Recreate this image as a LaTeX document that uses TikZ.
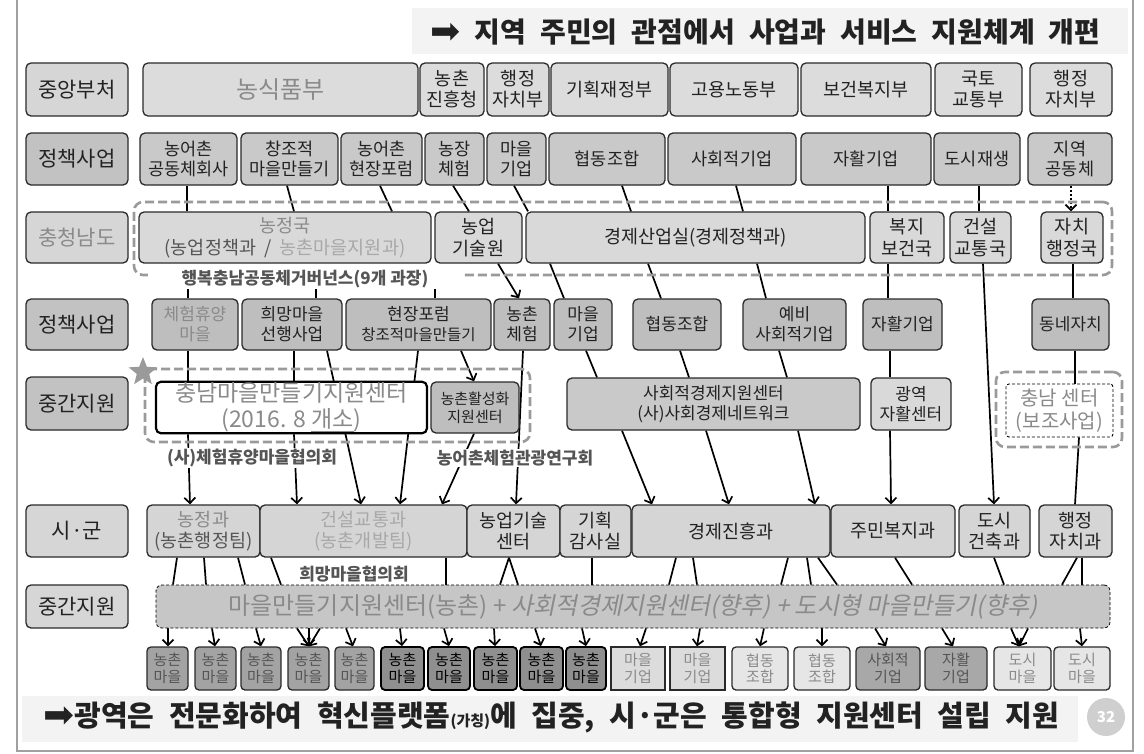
\documentclass[tikz,border=0pt]{standalone}
\usepackage{fontspec}
\setmainfont{Noto Sans CJK KR}
\newfontfamily\itk{Noto Sans CJK KR}[FakeSlant=0.2]
\newfontfamily\wide{Noto Sans CJK KR}[WordSpace=1.9]
\newfontfamily\widef{Noto Sans CJK KR}[WordSpace=2.2]
\newfontfamily\sym{DejaVu Sans}
\usetikzlibrary{arrows.meta,shapes.geometric}
\pgfdeclarelayer{bg}
\pgfsetlayers{bg,main}
\definecolor{bdr}{HTML}{2A2A2A}
\definecolor{tx}{HTML}{222222}
\definecolor{gtx}{HTML}{8A8A8A}
\definecolor{ltx}{HTML}{A8A8A8}
\definecolor{ctx}{HTML}{555555}
\definecolor{cA}{HTML}{D6D6D6}
\definecolor{cB}{HTML}{C2C2C2}
\definecolor{cR1}{HTML}{DCDCDC}
\definecolor{cR2}{HTML}{C9C9C9}
\definecolor{cR3}{HTML}{D9D9D9}
\definecolor{cR4}{HTML}{BEBEBE}
\definecolor{cR6}{HTML}{D5D5D5}
\definecolor{cR7}{HTML}{C6C6C6}
\definecolor{grpc}{HTML}{9A9A9A}
\definecolor{frm}{HTML}{A0A0A0}
\definecolor{bgl}{HTML}{F3F3F3}
\definecolor{pgc}{HTML}{CFCFCF}
\definecolor{HTMLa3}{HTML}{A3A3A3}
\definecolor{HTMLb}{HTML}{8F8F8F}
\definecolor{HTMLe}{HTML}{E6E6E6}
\definecolor{HTMLa8}{HTML}{A8A8A8}
\newcommand\fsz[2]{\fontsize{#1}{#2}\selectfont}
\newcommand\bx[7]{\node[#2,minimum width={(#5-#3)*1pt},minimum height={(#6-#4)*1pt}] (#1) at ({(#3+#5)/2},{(#4+#6)/2}) {#7};}
\tikzset{
 bxs/.style={draw=bdr,line width=1.3pt,rounded corners=5pt,inner sep=1pt,align=center,text=tx},
 lab1/.style={bxs,fill=cA,font=\fsz{21}{24}},
 lab2/.style={bxs,fill=cB,font=\fsz{21}{24}},
 r1/.style={bxs,fill=cR1,font=\fsz{18.5}{21}},
 r2/.style={bxs,fill=cR2,font=\fsz{17.5}{20}},
 r3/.style={bxs,fill=cR3,font=\fsz{18.5}{22}},
 r4/.style={bxs,fill=cR4,font=\fsz{17}{20}},
 r6/.style={bxs,fill=cR6,font=\fsz{18.5}{21}},
 grp/.style={draw=grpc,line width=2.6pt,dash pattern=on 9pt off 4pt,rounded corners=9pt,inner sep=0pt},
 glab/.style={fill=white,inner sep=1pt,text=ctx,font=\bfseries\fsz{17}{19}},
 con/.style={draw=black,line width=1.7pt},
 arr/.style={con,-{Straight Barb[length=5.5pt,width=11pt]}},
 vbase/.style={bxs,rounded corners=4pt,font=\fsz{15}{16.5},inner sep=0pt},
 vA/.style={vbase,fill=HTMLa3,text=ctx},
 vB/.style={vbase,fill=HTMLb,text=black,line width=1.8pt,draw=black},
 vC/.style={vbase,fill=cR1,text=gtx,rounded corners=0pt},
 vD/.style={vbase,fill=HTMLe,text=gtx},
 vE/.style={vbase,fill=HTMLa8,text=ctx},
 vF/.style={vbase,fill=HTMLe,text=gtx},
}
\begin{document}
\begin{tikzpicture}[x=1pt,y=-1pt]
\useasboundingbox (0,0) rectangle (1144,753);
\begin{pgfonlayer}{bg}
\fill[white] (0,0) rectangle (1144,753);
\fill[bgl] (412,8) rectangle (1128,54);
\fill[bgl] (22,696) rectangle (1078,742);
\end{pgfonlayer}
\draw[draw=frm,line width=1.2pt] (17,0) -- (17,751) -- (1133,751) -- (1133,0);

% title and footer
\node[anchor=east,text=tx,font=\wide\bfseries\fsz{28}{30}] (title) at (1104,32) {{\sym\mdseries\fsz{36}{30}\raisebox{-1pt}{➡}} 지역 주민의 관점에서 사업과 서비스 지원체계 개편};
\node[anchor=west,text=tx,font=\widef\bfseries\fsz{29}{31}] (foot) at (40,717) {{\sym\mdseries\fsz{37}{31}\raisebox{-1pt}{➡}}광역은 전문화하여 혁신플랫폼{\fsz{15}{16}(가칭)}에 집중, 시·군은 통합형 지원센터 설립 지원};
\node[circle,fill=pgc,text=white,minimum size=38pt,inner sep=0pt,font=\bfseries\fsz{15}{16}] (pg) at (1106,717) {32};

% row labels
\bx{L1}{lab1}{26}{63}{128}{116}{중앙부처}
\bx{L2}{lab2}{26}{133}{128}{185}{정책사업}
\bx{L3}{lab1,text=gtx}{26}{212}{128}{263}{충청남도}
\bx{L4}{lab2}{26}{299}{128}{350}{정책사업}
\bx{L5}{lab2}{26}{377}{128}{430}{중간지원}
\bx{L6}{lab1}{26}{505}{128}{557}{시·군}
\bx{L7}{lab1}{26}{585}{128}{628}{중간지원}

% row 1
\bx{a1}{r1,text=gtx,font=\fsz{24}{26}}{143}{63}{418}{116}{농식품부}
\bx{a2}{r1}{420}{63}{484}{116}{농촌\\진흥청}
\bx{a3}{r1}{487}{63}{549}{116}{행정\\자치부}
\bx{a4}{r1}{551}{63}{668}{116}{기획재정부}
\bx{a5}{r1}{670}{63}{798}{116}{고용노동부}
\bx{a6}{r1}{801}{63}{931}{116}{보건복지부}
\bx{a7}{r1}{935}{63}{1022}{116}{국토\\교통부}
\bx{a8}{r1}{1030}{63}{1112}{116}{행정\\자치부}

% row 2
\bx{b1}{r2}{140}{133}{237}{185}{농어촌\\공동체회사}
\bx{b2}{r2}{241}{133}{338}{185}{창조적\\마을만들기}
\bx{b3}{r2}{341}{133}{422}{185}{농어촌\\현장포럼}
\bx{b4}{r2}{425}{133}{484}{185}{농장\\체험}
\bx{b5}{r2}{487}{133}{546}{185}{마을\\기업}
\bx{b6}{r2}{549}{133}{665}{185}{협동조합}
\bx{b7}{r2}{668}{133}{796}{185}{사회적기업}
\bx{b8}{r2}{801}{133}{931}{185}{자활기업}
\bx{b9}{r2}{934}{133}{1020}{185}{도시재생}
\bx{b10}{r2}{1028}{133}{1112}{185}{지역\\공동체}

% row 3 (충청남도)
\bx{g3}{grp}{134}{202}{1112}{275}{}
\bx{c1}{r3}{139}{212}{431}{263}{{\color{gtx}농정국}\\{\color{ctx}(농업정책과~~/}~~{\color{ltx}농촌마을지원과)}}
\bx{c2}{r3}{435}{212}{522}{263}{농업\\기술원}
\bx{c3}{r3}{526}{212}{865}{263}{경제산업실(경제정책과)}
\bx{c4}{r3}{870}{212}{944}{263}{복지\\보건국}
\bx{c5}{r3}{950}{212}{1011}{263}{건설\\교통국}
\bx{c6}{r3}{1041}{212}{1103}{263}{자치\\행정국}
\node[glab,minimum width=314pt] (gv) at (305,279) {행복충남공동체거버넌스(9개 과장)};

% row 4
\bx{d1}{r4,text=gtx}{152}{299}{238}{350}{체험휴양\\마을}
\bx{d2}{r4}{242}{299}{342}{350}{희망마을\\선행사업}
\bx{d3}{r4}{346}{299}{491}{350}{현장포럼\\{\fsz{15.5}{18}창조적마을만들기}}
\bx{d4}{r4}{494}{299}{550}{350}{농촌\\체험}
\bx{d5}{r4}{554}{299}{612}{350}{마을\\기업}
\bx{d6}{r4}{633}{299}{721}{350}{협동조합}
\bx{d7}{r4}{743}{299}{846}{350}{예비\\사회적기업}
\bx{d8}{r4}{863}{299}{942}{350}{자활기업}
\bx{d9}{r4}{1032}{299}{1109}{350}{동네자치}

% row 5
\bx{g5}{grp}{145}{369}{530}{442}{}
\bx{e1}{bxs,fill=white,line width=2.2pt,draw=black,text=gtx,font=\fsz{23}{26}}{156}{382}{427}{433}{충남마을만들기지원센터\\(2016. 8 \underline{개소})}
\bx{e2}{r4,font=\fsz{15}{18}}{431}{382}{519}{433}{농촌활성화\\지원센터}
\bx{e3}{r2,font=\fsz{17}{20}}{567}{378}{860}{430}{사회적경제지원센터\\(사)사회경제네트워크}
\bx{e4}{r3,font=\fsz{17}{20}}{871}{378}{951}{430}{광역\\자활센터}
\bx{g5b}{grp}{996}{372}{1122}{447}{}
\bx{e5}{bxs,fill=white,line width=0.9pt,draw=black,densely dashed,text=gtx,font=\fsz{20}{23},rounded corners=3pt}{1006}{384}{1113}{437}{충남 센터\\(보조사업)}
\node[star,star points=5,star point ratio=2.3,fill=grpc,inner sep=0pt,minimum size=30pt] (st) at (143,372) {};
\node[glab] (h1) at (252,458) {(사)체험휴양마을협의회};
\node[glab] (h2) at (515,458) {농어촌체험관광연구회};

% row 6
\bx{f1}{r6,text=gtx}{147}{505}{260}{557}{농정과\\{\color{ctx}(농촌행정팀)}}
\bx{f2}{r6,text=ltx}{260}{505}{467}{557}{건설교통과\\(농촌개발팀)}
\bx{f3}{r6}{467}{505}{560}{557}{농업기술\\센터}
\bx{f4}{r6}{560}{505}{631}{557}{기획\\감사실}
\bx{f5}{r6}{632}{505}{830}{557}{경제진흥과}
\bx{f6}{r6}{831}{505}{955}{557}{주민복지과}
\bx{f7}{r6}{959}{505}{1030}{557}{도시\\건축과}
\bx{f8}{r6}{1039}{505}{1112}{557}{행정\\자치과}
\node[glab] (h3) at (354,574) {희망마을협의회};

% row 7
\bx{m}{bxs,fill=cR7,draw=black,line width=0.8pt,densely dashed,text=gtx,font=\fsz{24}{26},rounded corners=6pt}{156}{585}{1110}{628}{마을만들기지원센터(농촌) + {\itk 사회적경제지원센터(향후) + 도시형 마을만들기(향후)}}

% row 8
\bx{n1}{vA}{147}{647}{188}{690}{농촌\\마을}
\bx{n2}{vA}{195}{647}{236}{690}{농촌\\마을}
\bx{n3}{vA}{241}{647}{281}{690}{농촌\\마을}
\bx{n4}{vA}{288}{647}{329}{690}{농촌\\마을}
\bx{n5}{vA}{335}{647}{374}{690}{농촌\\마을}
\bx{n6}{vB}{381}{647}{424}{690}{농촌\\마을}
\bx{n7}{vB}{428}{647}{470}{690}{농촌\\마을}
\bx{n8}{vB}{474}{647}{517}{690}{농촌\\마을}
\bx{n9}{vB}{520}{647}{563}{690}{농촌\\마을}
\bx{n10}{vB}{566}{647}{606}{690}{농촌\\마을}
\bx{n11}{vC}{611}{647}{665}{690}{마을\\기업}
\bx{n12}{vC}{670}{647}{725}{690}{마을\\기업}
\bx{n13}{vD}{732}{647}{788}{690}{협동\\조합}
\bx{n14}{vD}{794}{647}{850}{690}{협동\\조합}
\bx{n15}{vE}{856}{647}{920}{690}{사회적\\기업}
\bx{n16}{vE}{925}{647}{987}{690}{자활\\기업}
\bx{n17}{vF}{994}{647}{1051}{690}{도시\\마을}
\bx{n18}{vF}{1054}{647}{1110}{690}{도시\\마을}

\begin{pgfonlayer}{bg}
% row 2 -> row 3
\draw[con] (b1.south -| 187,0) -- (c1.north -| 187,0);
\draw[con] (b2.south -| 287,0) -- (c1.north -| 294,0);
\draw[con] (b3.south -| 380,0) -- (c1.north -| 392,0);
\draw[con] (b4.south -| 453,0) -- (c2.north -| 469,0);
\draw[con] (b5.south -| 514,0) -- (c3.north -| 528,0);
\draw[con] (b6.south -| 622,0) -- (c3.north -| 631,0);
\draw[con] (b7.south -| 736,0) -- (c3.north -| 743,0);
\draw[con] (b8.south -| 888,0) -- (c4.north -| 888,0);
\draw[con] (b9.south -| 979,0) -- (c5.north -| 979,0);
\draw[arr,dash pattern=on 2pt off 2pt] (b10.south -| 1071,0) -- (c6.north -| 1071,0);
% row 3 -> row 4
\draw[con] (gv.south -| 188,0) -- (d1.north -| 188,0);
\draw[con] (gv.south -| 316,0) -- (d2.north -| 316,0);
\draw[con] (gv.south -| 435,0) -- (d3.north -| 435,0);
\draw[arr] (c2.south -| 498,0) -- (d4.north -| 519,0);
\draw[con] (c3.south -| 550,0) -- (d5.north -| 564,0);
\draw[con] (c3.south -| 648,0) -- (d6.north -| 661,0);
\draw[con] (c3.south -| 757,0) -- (d7.north -| 766,0);
\draw[con] (c4.south -| 888,0) -- (d8.north -| 888,0);
\draw[con] (c6.south -| 1073,0) -- (d9.north -| 1073,0);
\draw[arr] (c5.south -| 983,0) -- (f7.north -| 994,0);
% row 4 -> row 5 / 6
\draw[con] (d1.south -| 188,0) -- (e1.north -| 188,0);
\draw[con] (d2.south -| 294,0) -- (e1.north -| 294,0);
\draw[arr] (d2.south -| 327,0) -- (f2.north -| 361,0);
\draw[arr] (d3.south -| 418,0) -- (f2.north -| 400,0);
\draw[arr] (d3.south -| 461,0) -- (e2.north -| 474,0);
\draw[arr] (d4.south -| 523,0) -- (f3.north -| 516,0);
\draw[con] (d5.south -| 586,0) -- (e3.north -| 597,0);
\draw[con] (d6.south -| 680,0) -- (e3.north -| 689,0);
\draw[con] (d7.south -| 779,0) -- (e3.north -| 787,0);
\draw[con] (d8.south -| 890,0) -- (e4.north -| 890,0);
\draw[con] (d9.south -| 1075,0) -- (e5.north -| 1075,0);
% row 5 -> row 6
\draw[arr] (e1.south -| 188,0) -- (f1.north -| 190,0);
\draw[arr] (e1.south -| 294,0) -- (f2.north -| 297,0);
\draw[arr] (e2.south -| 474,0) -- (f2.north -| 442,0);
\draw[arr] (e3.south -| 622,0) -- (f5.north -| 652,0);
\draw[arr] (e3.south -| 706,0) -- (f5.north -| 729,0);
\draw[arr] (e3.south -| 798,0) -- (f5.north -| 815,0);
\draw[arr] (e4.south -| 890,0) -- (f6.north -| 891,0);
\draw[con] (e5.south -| 1079,0) -- (f8.north -| 1075,0);
% row 6 -> row 7
\draw[con] (f1.south -| 177,0) -- (m.north -| 173,0);
\draw[con] (f1.south -| 204,0) -- (m.north -| 206,0);
\draw[con] (f1.south -| 238,0) -- (m.north -| 245,0);
\draw[con] (f2.south -| 271,0) -- (m.north -| 281,0);
\draw[con] (f2.south -| 446,0) -- (m.north -| 446,0);
\draw[con] (f3.south -| 509,0) -- (m.north -| 500,0);
\draw[con] (f3.south -| 509,0) -- (m.north -| 518,0);
\draw[con] (f4.south -| 592,0) -- (m.north -| 592,0);
\draw[con] (f5.south -| 676,0) -- (m.north -| 669,0);
\draw[con] (f5.south -| 693,0) -- (m.north -| 697,0);
\draw[con] (f5.south -| 788,0) -- (m.north -| 781,0);
\draw[con] (f5.south -| 807,0) -- (m.north -| 811,0);
\draw[con] (f5.south -| 818,0) -- (m.north -| 837,0);
\draw[con] (f6.south -| 895,0) -- (m.north -| 912,0);
\draw[con] (f7.south -| 994,0) -- (m.north -| 1004,0);
\draw[con] (f8.south -| 1077,0) -- (m.north -| 1062,0);
\draw[con] (f8.south -| 1082,0) -- (m.north -| 1082,0);
% row 7 -> row 8
\foreach \a/\b/\n in {168/168/n1,212/215/n2,256/261/n3,297/309/n4,309/309/n4,320/309/n4,346/353/n5,400/402/n6,444/449/n7,494/495/n8,535/541/n9,582/586/n10,646/640/n11,700/697/n12,764/760/n13,822/822/n14,875/886/n15,942/953/n16,1011/1019/n17,1028/1019/n17,1080/1082/n18}
  \draw[arr] (m.south -| \a,0) -- (\n.north -| \b,0);
\end{pgfonlayer}
\end{tikzpicture}
\end{document}
